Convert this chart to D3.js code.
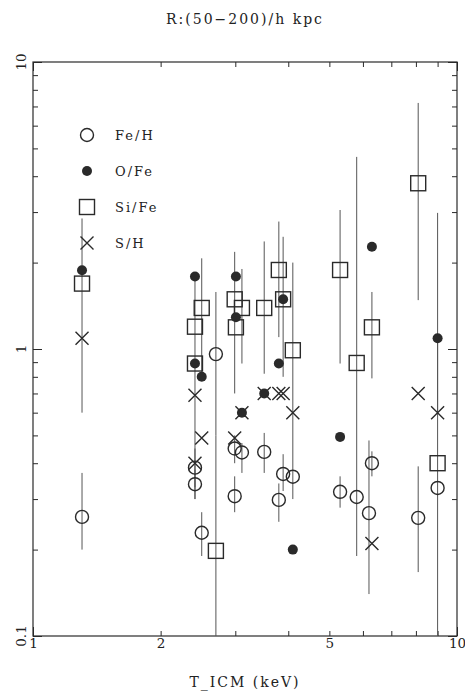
<!DOCTYPE html>
<html>
<head>
<meta charset="utf-8">
<script src="https://cdn.jsdelivr.net/npm/d3@7"></script>
<style>
  body { margin: 0; background: #fff; }
  text { font-family: "DejaVu Serif", serif; fill: #222; letter-spacing: 2px; }
  .tick text, .ylab { letter-spacing: 0; }
</style>
</head>
<body>
<svg id="chart" width="465" height="694"></svg>
<script>
// [T_ICM, value, errLo, errHi]  (null = no bar drawn)
const feH = [
  [1.305, 0.26, 0.2, 0.37],
  [2.41, 0.386, 0.33, 0.45],
  [2.41, 0.338, 0.3, 0.38],
  [2.50, 0.229, 0.19, 0.27],
  [2.70, 0.96, 0.5, 1.58],
  [2.99, 0.45, 0.4, 0.5],
  [2.99, 0.307, 0.27, 0.36],
  [3.11, 0.436, 0.37, 0.47],
  [3.51, 0.438, 0.37, 0.51],
  [3.80, 0.298, 0.25, 0.34],
  [3.89, 0.367, 0.32, 0.43],
  [4.10, 0.359, null, null],
  [5.30, 0.318, 0.28, 0.36],
  [5.80, 0.305, null, null],
  [6.20, 0.268, 0.14, 0.48],
  [6.30, 0.40, 0.36, 0.44],
  [8.10, 0.258, 0.167, 0.39],
  [9.00, 0.328, null, null]
]
const oFe = [
  [1.305, 1.88, null, null],
  [2.41, 1.79, null, null],
  [3.01, 1.79, null, null],
  [3.01, 1.29, null, null],
  [2.41, 0.89, null, null],
  [2.50, 0.80, null, null],
  [3.11, 0.60, null, null],
  [3.51, 0.70, null, null],
  [3.80, 0.89, null, null],
  [3.89, 1.49, null, null],
  [4.10, 0.20, null, null],
  [5.30, 0.494, null, null],
  [6.30, 2.27, null, null],
  [9.00, 1.09, 0.6, 2.98]
]
const siFe = [
  [1.305, 1.69, null, null],
  [2.41, 1.196, null, null],
  [2.41, 0.89, null, null],
  [2.50, 1.39, 0.8, 2.07],
  [2.70, 0.198, 0.05, 0.5],
  [2.99, 1.49, 0.7, 2.18],
  [3.01, 1.19, null, null],
  [3.11, 1.39, 0.89, 1.9],
  [3.51, 1.39, 0.82, 2.37],
  [3.80, 1.885, 1.1, 2.78],
  [3.89, 1.49, 0.8, 2.46],
  [4.10, 0.99, 0.3, 2.0],
  [5.30, 1.885, 0.89, 3.05],
  [5.80, 0.894, 0.19, 4.67],
  [6.30, 1.19, 0.79, 1.58],
  [8.10, 3.78, 1.48, 7.2],
  [9.00, 0.40, 0.05, 1.1]
]
const sH = [
  [1.305, 1.09, 0.6, 2.85],
  [2.41, 0.69, 0.3, 1.8],
  [2.41, 0.40, null, null],
  [2.50, 0.49, null, null],
  [2.99, 0.49, null, null],
  [3.11, 0.60, null, null],
  [3.51, 0.70, null, null],
  [3.80, 0.70, null, null],
  [3.89, 0.70, null, null],
  [4.10, 0.60, null, null],
  [6.30, 0.21, null, null],
  [8.10, 0.70, null, null],
  [9.00, 0.60, null, null]
]

const seriesNames = ["Fe/H", "O/Fe", "Si/Fe", "S/H"]
const xTicks = [1, 2, 3, 4, 5, 6, 7, 8, 9, 10]
const xLabels = [1, 2, 5, 10]
const yTicks = [0.1, 0.2, 0.3, 0.4, 0.5, 0.6, 0.7, 0.8, 0.9, 1, 2, 3, 4, 5, 6, 7, 8, 9, 10]
const yLabels = [0.1, 1, 10]

const svg = d3.select("#chart")
const ink = "#2a2a2a"

const x = d3.scaleLog().domain([1, 10]).range([33, 457])
const y = d3.scaleLog().domain([0.1, 10]).range([636, 62])

svg.append("defs").append("clipPath").attr("id", "plot")
  .append("rect")
  .attr("x", x(1)).attr("y", y(10))
  .attr("width", x(10) - x(1)).attr("height", y(0.1) - y(10))

// axes (ticks drawn inwards on all four sides)
function styleAxis(g, decades, len) {
  g.select(".domain").remove()
  g.selectAll(".tick line").attr("stroke", ink)
  g.selectAll(".tick line").filter(d => decades.includes(d))
    .each(function() {
      const l = d3.select(this)
      if (l.attr("y2") != null) l.attr("y2", Math.sign(+l.attr("y2")) * len)
      if (l.attr("x2") != null) l.attr("x2", Math.sign(+l.attr("x2")) * len)
    })
  g.selectAll(".tick text").style("font-size", "13.5px").attr("fill", "#222")
}

svg.append("g")
  .attr("transform", `translate(0,${y(0.1)})`)
  .call(d3.axisBottom(x).tickValues(xTicks).tickSizeInner(-5).tickSizeOuter(0)
    .tickPadding(2).tickFormat(d => xLabels.includes(d) ? d : ""))
  .call(g => styleAxis(g, [1, 10], 9))
  .attr("font-family", null)

svg.append("g")
  .attr("transform", `translate(0,${y(10)})`)
  .call(d3.axisTop(x).tickValues(xTicks).tickSizeInner(-5).tickSizeOuter(0).tickFormat(""))
  .call(g => styleAxis(g, [1, 10], 9))

svg.append("g")
  .attr("transform", `translate(${x(1)},0)`)
  .call(d3.axisLeft(y).tickValues(yTicks).tickSizeInner(-5).tickSizeOuter(0).tickFormat(""))
  .call(g => styleAxis(g, [0.1, 1, 10], 9))

svg.append("g")
  .attr("transform", `translate(${x(10)},0)`)
  .call(d3.axisRight(y).tickValues(yTicks).tickSizeInner(-5).tickSizeOuter(0).tickFormat(""))
  .call(g => styleAxis(g, [0.1, 1, 10], 9))

svg.append("rect")
  .attr("x", x(1)).attr("y", y(10))
  .attr("width", x(10) - x(1)).attr("height", y(0.1) - y(10))
  .attr("fill", "none").attr("stroke", ink).attr("stroke-width", 1.2)

// rotated y labels
svg.selectAll(".ylab").data(yLabels).enter().append("text")
  .attr("class", "ylab")
  .attr("transform", d => `translate(26,${y(d)}) rotate(-90)`)
  .attr("text-anchor", "middle")
  .style("font-size", "13.5px")
  .text(d => d)

svg.append("text")
  .attr("x", 245).attr("y", 24)
  .attr("text-anchor", "middle")
  .style("font-size", "14px")
  .text("R:(50\u2212200)/h kpc")

svg.append("text")
  .attr("x", 245).attr("y", 687)
  .attr("text-anchor", "middle")
  .style("font-size", "14px")
  .text("T_ICM (keV)")

// error bars
const plot = svg.append("g").attr("clip-path", "url(#plot)")
const allBars = [feH, oFe, siFe, sH].flat().filter(d => d[2] != null)
plot.selectAll(".err").data(allBars).enter().append("line")
  .attr("class", "err")
  .attr("x1", d => x(d[0])).attr("x2", d => x(d[0]))
  .attr("y1", d => y(d[2])).attr("y2", d => y(d[3]))
  .attr("stroke", "#555").attr("stroke-width", 1)

// marker shapes
function drawMarker(sel, kind) {
  if (kind === 0) {
    sel.append("circle").attr("r", 6.5).attr("fill", "none").attr("stroke", ink).attr("stroke-width", 1.4)
  } else if (kind === 1) {
    sel.append("circle").attr("r", 5).attr("fill", ink)
  } else if (kind === 2) {
    sel.append("rect").attr("x", -7.5).attr("y", -7.5).attr("width", 15).attr("height", 15)
      .attr("fill", "none").attr("stroke", ink).attr("stroke-width", 1.4)
  } else {
    sel.append("path").attr("d", "M-6.5,-6.5L6.5,6.5M-6.5,6.5L6.5,-6.5")
      .attr("stroke", ink).attr("stroke-width", 1.4)
  }
}

;[feH, oFe, siFe, sH].forEach((data, k) => {
  plot.selectAll(".m" + k).data(data).enter().append("g")
    .attr("class", "m" + k)
    .attr("transform", d => `translate(${x(d[0])},${y(d[1])})`)
    .call(g => drawMarker(g, k))
})

// legend
const legend = svg.append("g").attr("transform", "translate(87,135)")
seriesNames.forEach((name, i) => {
  const row = legend.append("g").attr("transform", `translate(0,${i * 36})`)
  drawMarker(row, i)
  row.append("text").attr("x", 28).attr("y", 5)
    .style("font-size", "13px")
    .text(name)
})
</script>
</body>
</html>
